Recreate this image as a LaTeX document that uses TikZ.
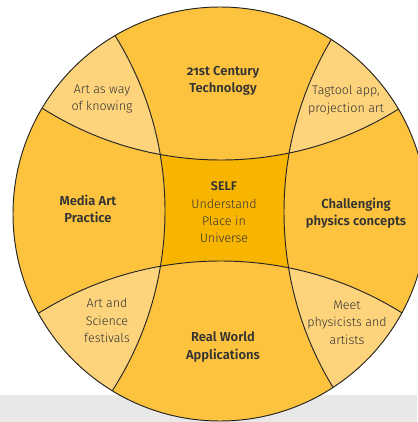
\documentclass[tikz,border=0pt]{standalone}
\usepackage{fontspec}
\setmainfont{Fira Sans Light}[BoldFont={Fira Sans SemiBold},Numbers=OldStyle]
\definecolor{medcol}{HTML}{FDC33E}
\definecolor{lightcol}{HTML}{FDD47C}
\definecolor{centercol}{HTML}{F8B500}
\definecolor{bandcol}{HTML}{E8E8E8}
\definecolor{txtcol}{HTML}{333333}
\definecolor{linecol}{HTML}{262626}
\tikzset{
  lbl/.style={align=center, text=txtcol, font=\fontsize{12.5}{17.3}\selectfont, inner sep=0pt},
  blbl/.style={lbl, font=\fontsize{13}{17.3}\selectfont\bfseries},
  divider/.style={draw=linecol, line width=0.95pt},
}
\begin{document}
\begin{tikzpicture}[x=1pt,y=-1pt]
\useasboundingbox (0,0) rectangle (417,422);
\fill[white] (0,0) rectangle (417,422);
\fill[bandcol] (0,395) rectangle (417,422);
\coordinate (C) at (220,214);
\coordinate (Lc) at (-167.6,211);
\coordinate (Rc) at (622,212);
\coordinate (Tc) at (221,-174);
\coordinate (Bc) at (220.5,604);
\begin{scope}
  \clip (C) circle [radius=207pt];
  \fill[centercol] (0,0) rectangle (417,422);
  \fill[medcol] (Lc) circle [radius=332.6pt];
  \fill[medcol] (Rc) circle [radius=338pt];
  \fill[medcol] (Tc) circle [radius=334pt];
  \fill[medcol] (Bc) circle [radius=343pt];
  \begin{scope}\clip (Lc) circle [radius=332.6pt];
    \fill[lightcol] (Tc) circle [radius=334pt];
    \fill[lightcol] (Bc) circle [radius=343pt];
  \end{scope}
  \begin{scope}\clip (Rc) circle [radius=338pt];
    \fill[lightcol] (Tc) circle [radius=334pt];
    \fill[lightcol] (Bc) circle [radius=343pt];
  \end{scope}
  \draw[divider] (Lc) circle [radius=332.6pt];
  \draw[divider] (Rc) circle [radius=338pt];
  \draw[divider] (Tc) circle [radius=334pt];
  \draw[divider] (Bc) circle [radius=343pt];
\end{scope}
\draw[divider] (C) circle [radius=207pt];
\node[blbl] (tech) at (223,81) {21st Century\\Technology};
\node[lbl] (know) at (102,99) {Art as way\\of knowing};
\node[lbl] (tag) at (346,100) {Tagtool app,\\projection art};
\node[blbl] (media) at (88,209) {Media Art\\Practice};
\node[lbl] (self) at (224,212.5) {\textbf{SELF}\\Understand\\Place in\\Universe};
\node[blbl] (phys) at (356,213.5) {Challenging\\physics concepts};
\node[lbl] (fest) at (107,320.5) {Art and\\Science\\festivals};
\node[blbl] (real) at (223,347) {Real World\\Applications};
\node[lbl] (meet) at (347,322.5) {Meet\\physicists and\\artists};
\end{tikzpicture}
\end{document}
